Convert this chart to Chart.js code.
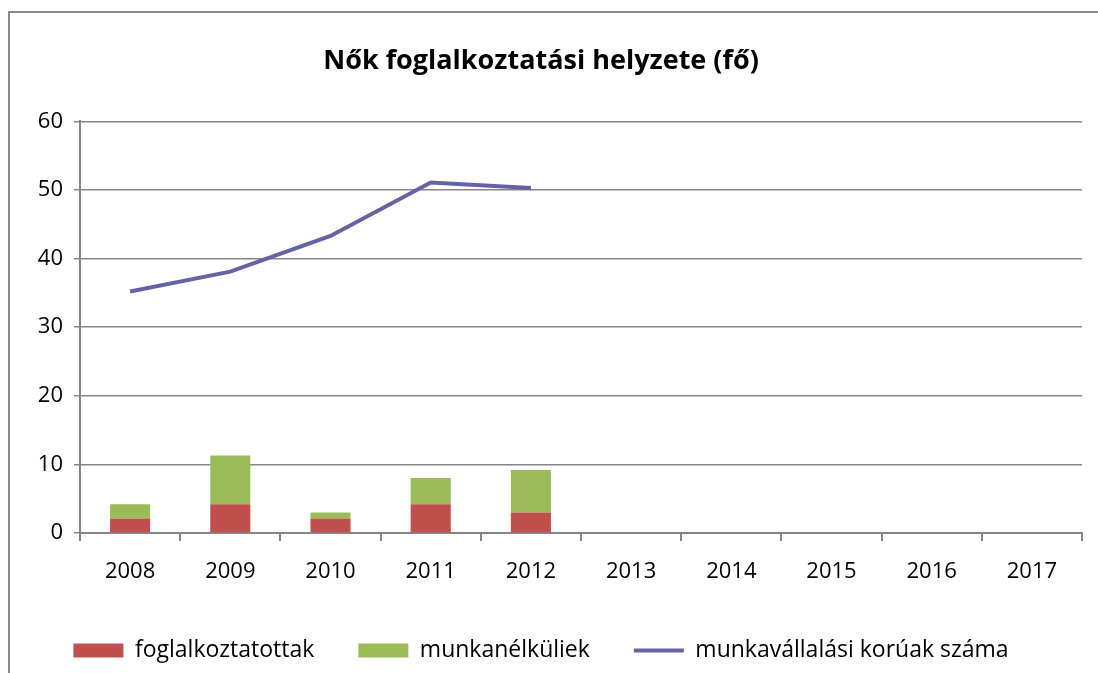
<!DOCTYPE html>
<html>
<head>
<meta charset="utf-8">
<script src="https://cdn.jsdelivr.net/npm/chart.js@4.4.1/dist/chart.umd.min.js"></script>
<style>
  html, body { margin: 0; padding: 0; background: #fff; overflow: hidden; }
  #frame { position: absolute; left: 8px; top: 11px; width: 2000px; height: 2000px;
           border-left: 2px solid #8a8a8a; border-top: 2px solid #8a8a8a; }
  #wrap { position: absolute; left: 0; top: 0; width: 1098px; height: 673px; }
</style>
</head>
<body>
<div id="frame"></div>
<div id="wrap"><canvas id="chart"></canvas></div>
<script>
// adatok
const years = ["2008", "2009", "2010", "2011", "2012", "2013", "2014", "2015", "2016", "2017"];
const foglalkoztatottak = [2.1, 4.2, 2.1, 4.2, 3.0, null, null, null, null, null];
const munkanelkuliek = [2.1, 7.1, 0.9, 3.8, 6.2, null, null, null, null, null];
const korúak = [35.2, 38.1, 43.3, 51.1, 50.3, null, null, null, null, null];
const yTicks = [0, 10, 20, 30, 40, 50, 60];

const font = "'Open Sans', sans-serif";
const grey = "#868686";

new Chart(document.getElementById("chart").getContext("2d"), {
    type: "bar",
    data: {
        labels: years,
        datasets: [
            {
                label: "foglalkoztatottak",
                data: foglalkoztatottak,
                backgroundColor: "#C0504D",
                pointStyle: "rect",
                barPercentage: 0.4,
                categoryPercentage: 1,
            },
            {
                label: "munkanélküliek",
                data: munkanelkuliek,
                backgroundColor: "#9BBB59",
                pointStyle: "rect",
                barPercentage: 0.4,
                categoryPercentage: 1,
            },
            {
                type: "line",
                label: "munkavállalási korúak száma",
                data: korúak,
                borderColor: "#6464A2",
                backgroundColor: "#6464A2",
                borderWidth: 4,
                pointRadius: 0,
                pointStyle: "line",
                tension: 0,
                fill: false,
            },
        ],
    },
    options: {
        responsive: true,
        maintainAspectRatio: false,
        animation: false,
        layout: { padding: { left: 0, right: 16, top: 0, bottom: 1 } },
        plugins: {
            title: {
                display: true,
                text: "Nők foglalkoztatási helyzete (fő)",
                color: "#000",
                font: { family: font, size: 27, weight: "bold" },
                padding: { top: 45, bottom: 44 },
            },
            legend: {
                position: "bottom",
                labels: {
                    usePointStyle: true,
                    pointStyleWidth: 50,
                    boxHeight: 14,
                    padding: 44,
                    color: "#000",
                    font: { family: font, size: 23 },
                },
            },
            tooltip: { enabled: false },
        },
        scales: {
            x: {
                stacked: true,
                grid: { offset: true, drawOnChartArea: false, color: grey, lineWidth: 2, tickLength: 8 },
                border: { color: grey, width: 2 },
                ticks: { color: "#000", font: { family: font, size: 22 }, padding: 18 },
                afterFit: (s) => { s.height = 62; },
            },
            y: {
                stacked: true,
                min: 0,
                max: 60,
                afterBuildTicks: (s) => { s.ticks = yTicks.map((v) => ({ value: v })); },
                grid: { color: grey, lineWidth: 1.5, tickLength: 6 },
                border: { color: grey, width: 2 },
                ticks: { color: "#000", font: { family: font, size: 22 }, padding: 11 },
                afterFit: (s) => { s.width = 80; },
            },
        },
    },
});
</script>
</body>
</html>
